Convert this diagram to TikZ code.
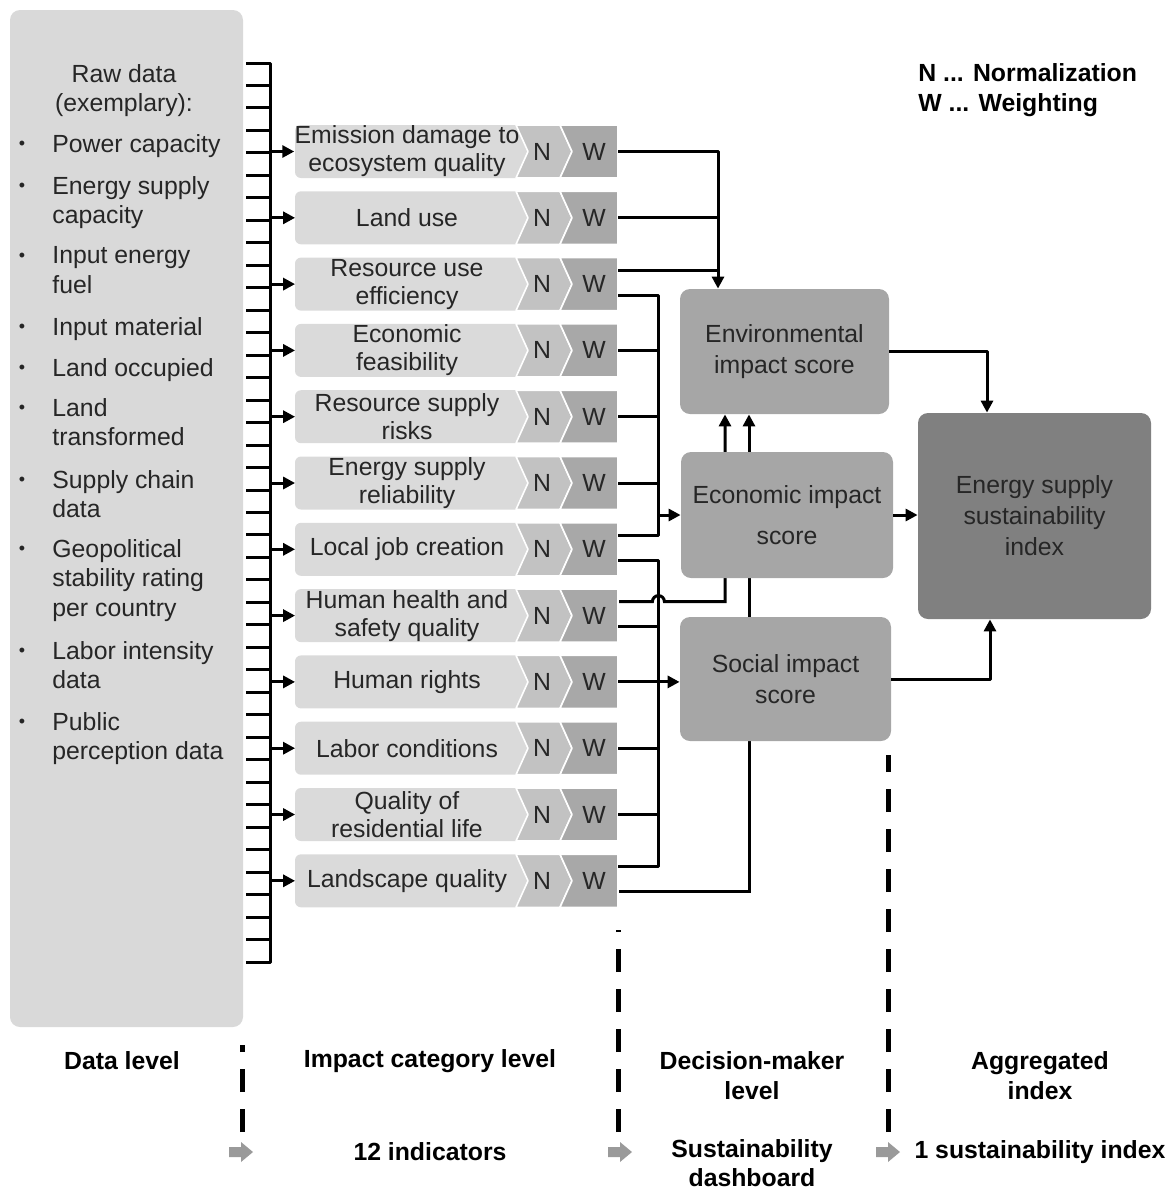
\documentclass[tikz,border=0pt]{standalone}
\usepackage{fontspec}
\setmainfont{Liberation Sans}
\usepackage{tikz}
\usetikzlibrary{arrows.meta}
\pgfdeclarelayer{back}
\pgfsetlayers{back,main}

\definecolor{panelgray}{HTML}{D9D9D9}
\definecolor{indgray}{HTML}{DADADA}
\definecolor{ngray}{HTML}{C2C2C2}
\definecolor{wgray}{HTML}{A8A8A8}
\definecolor{scoregray}{HTML}{A6A6A6}
\definecolor{totalgray}{HTML}{808080}
\definecolor{stepgray}{HTML}{9A9A9A}
\definecolor{ink}{HTML}{262626}

\tikzset{
  txt/.style={inner sep=0pt, text=ink, font=\fontsize{12.4}{14.8}\selectfont, align=left},
  boxtxt/.style={inner sep=0pt, text=ink, font=\fontsize{12.4}{14}\selectfont, align=center,
    minimum width=111.5pt, minimum height=26.5pt},
  nwtxt/.style={inner sep=0pt, text=ink, font=\fontsize{12.4}{14}\selectfont, minimum height=26.5pt},
  score/.style={fill=scoregray, rounded corners=5pt, inner sep=0pt, text=ink, align=center,
    font=\fontsize{12.4}{15.5}\selectfont},
  level/.style={inner sep=0pt, align=center, font=\fontsize{12.4}{15}\selectfont\bfseries},
  conn/.style={line width=1.5pt},
  sep/.style={line width=2.5pt, dash pattern=on 11.5pt off 8.5pt}
}

\begin{document}
\begin{tikzpicture}[x=0.5pt, y=-0.5pt, line join=round, >={Triangle[length=6pt,width=6pt]}]
  \useasboundingbox (0,0) rectangle (1175,1191);
  % data level
  \fill[panelgray, rounded corners=5pt] (10,10) rectangle (243,1027);
  \node[txt, align=center, anchor=north] (raw) at (124,64) {Raw data\\(exemplary):};
  \foreach \y/\txt [count=\k] in {144/Power capacity, 186/{Energy supply\\capacity},
      256/{Input energy\\fuel}, 327/Input material, 368/Land occupied, 408/{Land\\transformed},
      480/{Supply chain\\data}, 549/{Geopolitical\\stability rating\\per country},
      651/{Labor intensity\\data}, 722/{Public\\perception data}} {
    \node[txt, font=\fontsize{9}{10}\selectfont] (dot\k) at (22,\y+1) {\textbullet};
    \node[txt, anchor=north west] (item\k) at (52,\y-10) {\txt};
  }
  % comb
  \draw[conn] (246,63) -| (270,962) -- (246,962);
  \foreach \k in {1,...,39}
    \draw[conn] (246,63+22.475*\k) -- (270,63+22.475*\k);
  \coordinate (bar) at (270,63);
  % impact categories
  \foreach \txt [count=\i] in {{Emission damage to\\ecosystem quality}, {Land use},
      {Resource use\\efficiency}, {Economic\\feasibility}, {Resource supply\\risks},
      {Energy supply\\reliability}, {Local job creation}, {Human health and\\safety quality},
      {Human rights}, {Labor conditions}, {Quality of\\residential life}, {Landscape quality}} {
    \pgfmathsetmacro\y{151.5+66.3*(\i-1)}
    \fill[indgray] (528,\y) -- (516,\y+26.5) [rounded corners=3pt] -- (295,\y+26.5)
      -- (295,\y-26.5) [sharp corners] -- (516,\y-26.5) -- cycle;
    \filldraw[ngray, draw=white, line width=0.8pt] (516,\y-26.5) -- (560,\y-26.5) -- (572,\y)
      -- (560,\y+26.5) -- (516,\y+26.5) -- (528,\y) -- cycle;
    \filldraw[wgray, draw=white, line width=0.8pt] (560,\y-26.5) -- (618,\y-26.5)
      -- (618,\y+26.5) -- (560,\y+26.5) -- (572,\y) -- cycle;
    \node[boxtxt] (ind\i) at (407,\y) {\txt};
    \node[nwtxt] (n\i) at (542,\y) {N};
    \node[nwtxt, minimum width=24pt] (w\i) at (594,\y) {W};
    \draw[conn, ->] (bar |- ind\i.west) -- (ind\i.west);
  }
  % decision-maker level
  \node[score, minimum width=104.5pt, minimum height=62.5pt] (env) at (784.5,351.5) {Environmental\\impact score};
  \node[score, minimum width=106pt, minimum height=63pt, font=\fontsize{12.4}{20.5}\selectfont] (eco) at (787,515) {Economic impact\\score};
  \node[score, minimum width=105.5pt, minimum height=62pt] (soc) at (785.5,679) {Social impact\\score};
  \node[score, fill=totalgray, minimum width=116.5pt, minimum height=103pt] (agg) at (1034.5,516) {Energy supply\\sustainability\\index};
  \node[level, align=left, anchor=north west] (key) at (918,63) {N ... Normalization\\W ... Weighting};

  \coordinate (envbus) at (718,151.5);
  \coordinate (ecobus) at (658,295);
  \coordinate (hopl) at (725,600);
  \coordinate (hopr) at (749,890);
  \foreach \i in {3,7,8,12} {
    \coordinate (w\i u) at ([yshift=7pt]w\i.east);
    \coordinate (w\i l) at ([yshift=-5.5pt]w\i.east);
  }
  % environmental
  \draw[conn, ->] (w1.east) -| (envbus |- env.north);
  \draw[conn] (w2.east) -- (w2.east -| envbus);
  \draw[conn] (w3u) -- (w3u -| envbus);
  % economic
  \draw[conn] (w3l) -| (w7u -| ecobus) -- (w7u);
  \foreach \i in {4,5,6}
    \draw[conn] (w\i.east) -- (w\i.east -| ecobus);
  \draw[conn, ->] (ecobus |- eco.west) -- (eco.west);
  % social
  \draw[conn] (w7l) -| (w12u -| ecobus) -- (w12u);
  \draw[conn] (w8l) -- (w8l -| ecobus);
  \foreach \i in {10,11}
    \draw[conn] (w\i.east) -- (w\i.east -| ecobus);
  \draw[conn, ->] (w9.east) -- (w9.east -| soc.west);
  \begin{pgfonlayer}{back}
    \draw[conn, ->] (w8u) -- ++(34,0) arc[start angle=180, end angle=0, radius=3pt] -| (hopl |- env.south);
    \draw[conn, ->] (w12l) -| (hopr |- env.south);
  \end{pgfonlayer}
  % aggregated
  \draw[conn, ->] (env.east) -| ([xshift=-23.75pt]agg.north);
  \draw[conn, ->] (eco.east) -- (eco.east -| agg.west);
  \draw[conn, ->] (soc.east) -| ([xshift=-22.25pt]agg.south);

  % levels
  \draw[sep] (242,1132) -- (242,1045);
  \draw[sep] (618,1132) -- (618,930);
  \draw[sep] (888,1132) -- (888,755);
  \foreach \x in {241,620,888}
    \fill[stepgray] (\x-12,1147) -- (\x,1147) -- (\x,1142) -- (\x+12,1152) -- (\x,1162)
      -- (\x,1157) -- (\x-12,1157) -- cycle;
  \node[level] (datalvl) at (122,1061) {Data level};
  \node[level] (catlvl) at (430,1061) {Impact category level};
  \node[level] (declvl) at (752,1076) {Decision-maker\\level};
  \node[level] (agglvl) at (1040,1076) {Aggregated\\index};
  \node[level] (ncat) at (430,1152) {12 indicators};
  \node[level, font=\fontsize{12.4}{14.5}\selectfont\bfseries] (board) at (752,1163) {Sustainability\\dashboard};
  \node[level] (nidx) at (1040,1152) {1 sustainability index};
\end{tikzpicture}
\end{document}
